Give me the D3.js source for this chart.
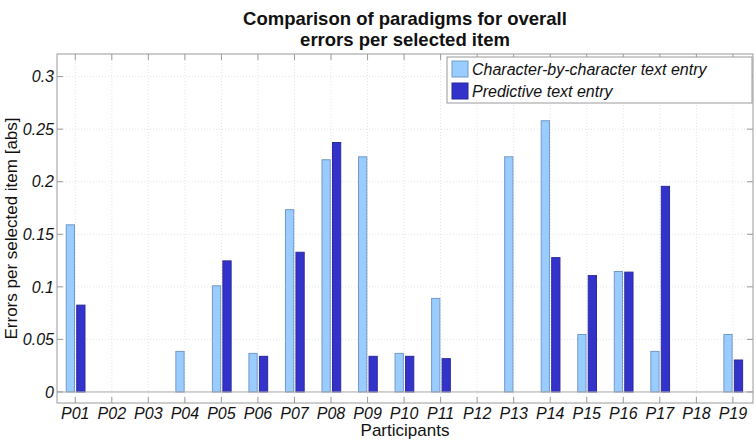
<!DOCTYPE html>
<html><head><meta charset="utf-8">
<script src="https://cdn.jsdelivr.net/npm/d3@7"></script>
<style>body{margin:0;background:#fff}svg{display:block}text{font-family:Arial,"Liberation Sans",sans-serif}</style>
</head><body><svg id="c" width="756" height="444"></svg>
<script>
const categories = ["P01","P02","P03","P04","P05","P06","P07","P08","P09","P10","P11","P12","P13","P14","P15","P16","P17","P18","P19"];
const charByChar = [0.159,0,0,0.0386,0.101,0.0367,0.1734,0.2209,0.2237,0.0367,0.089,0,0.2237,0.258,0.0547,0.1146,0.0386,0,0.0547];
const predictive = [0.0826,0,0,0,0.1247,0.0339,0.1329,0.2373,0.0339,0.0339,0.0317,0,0,0.1278,0.1107,0.114,0.1956,0,0.0304];
const yTicks = [0,0.05,0.1,0.15,0.2,0.25,0.3];
const yTickLabels = ["0","0.05","0.1","0.15","0.2","0.25","0.3"];
const seriesNames = ["Character-by-character text entry","Predictive text entry"];

const svg = d3.select("#c");
const L=57, R=753, T=54, B=403;
const x = d3.scaleLinear().domain([0.5, 19.55]).range([L, R]);
const y = d3.scaleLinear().domain([-0.0105, 0.3215]).range([B, T]);
const step = x(2)-x(1);
const colors = ["#99ccff","#3333cc"], strokes = ["#7399c6","#2b2b99"];

// grid
const g = svg.append("g");
g.selectAll(".gx").data(categories).enter().append("line")
  .attr("x1",(d,i)=>x(i+1)).attr("x2",(d,i)=>x(i+1)).attr("y1",T).attr("y2",B)
  .attr("stroke","#e3e3e3").attr("stroke-dasharray","1,2");
g.selectAll(".gy").data(yTicks.slice(1)).enter().append("line")
  .attr("x1",L).attr("x2",R).attr("y1",d=>y(d)).attr("y2",d=>y(d))
  .attr("stroke","#e3e3e3").attr("stroke-dasharray","1,2");

// bars
const series = [charByChar, predictive];
const offs = [-0.247, 0.04];
series.forEach((vals,s)=>{
  const data = vals.map((v,i)=>({v,i})).filter(d=>d.v>0);
  svg.append("g").selectAll("rect").data(data).enter().append("rect")
    .attr("x",d=>x(d.i+1)+offs[s]*step)
    .attr("width",0.226*step)
    .attr("y",d=>y(d.v)).attr("height",d=>y(0)-y(d.v))
    .attr("fill",colors[s]).attr("stroke",strokes[s]).attr("stroke-width",1);
});

// baseline
svg.append("line").attr("x1",L).attr("x2",R).attr("y1",y(0)).attr("y2",y(0)).attr("stroke","#a8a8a8");

// axes box
svg.append("rect").attr("x",L).attr("y",T).attr("width",R-L).attr("height",B-T)
  .attr("fill","none").attr("stroke","#9a9a9a");
// ticks inward
const ax = svg.append("g");
categories.forEach((c,i)=>{
  ax.append("line").attr("x1",x(i+1)).attr("x2",x(i+1)).attr("y1",B).attr("y2",B-6).attr("stroke","#9a9a9a");
  ax.append("line").attr("x1",x(i+1)).attr("x2",x(i+1)).attr("y1",T).attr("y2",T+6).attr("stroke","#9a9a9a");
  ax.append("text").attr("x",x(i+1)).attr("y",419).attr("text-anchor","middle")
    .attr("font-size",16).attr("font-style","italic").attr("fill","#111").text(c);
});
yTicks.forEach((t,i)=>{
  ax.append("line").attr("x1",L).attr("x2",L+6).attr("y1",y(t)).attr("y2",y(t)).attr("stroke","#9a9a9a");
  ax.append("line").attr("x1",R).attr("x2",R-6).attr("y1",y(t)).attr("y2",y(t)).attr("stroke","#9a9a9a");
  ax.append("text").attr("x",54).attr("y",y(t)).attr("dy","0.36em").attr("text-anchor","end")
    .attr("font-size",16).attr("font-style","italic").attr("fill","#111").text(yTickLabels[i]);
});

// labels
svg.append("text").attr("x",(L+R)/2).attr("y",436).attr("text-anchor","middle").attr("font-size",17).attr("fill","#111").text("Participants");
svg.append("text").attr("transform",`translate(17,${(T+B)/2}) rotate(-90)`).attr("text-anchor","middle").attr("font-size",17).attr("fill","#111").text("Errors per selected item [abs]");
svg.append("text").attr("x",(L+R)/2).attr("y",25).attr("text-anchor","middle").attr("font-size",18.5).attr("font-weight","bold").attr("fill","#111").text("Comparison of paradigms for overall");
svg.append("text").attr("x",(L+R)/2).attr("y",46).attr("text-anchor","middle").attr("font-size",18.5).attr("font-weight","bold").attr("fill","#111").text("errors per selected item");

// legend
const lg = svg.append("g");
lg.append("rect").attr("x",447).attr("y",57).attr("width",305).attr("height",46).attr("fill","#fff").attr("stroke","#9a9a9a");
seriesNames.forEach((n,i)=>{
  lg.append("rect").attr("x",452).attr("y",61+i*22).attr("width",16).attr("height",16).attr("fill",colors[i]).attr("stroke",strokes[i]);
  lg.append("text").attr("x",472).attr("y",75+i*21.5).attr("font-size",16).attr("font-style","italic").attr("fill","#111").text(n);
});
</script></body></html>
